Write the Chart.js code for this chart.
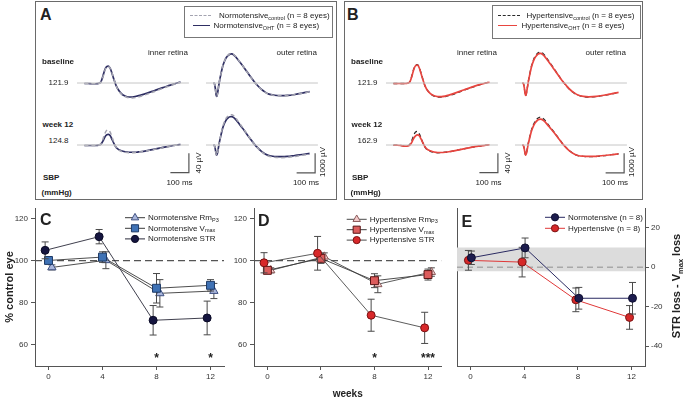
<!DOCTYPE html>
<html>
<head>
<meta charset="utf-8">
<script src="https://cdn.jsdelivr.net/npm/chart.js@4.4.0/dist/chart.umd.min.js"></script>
<style>
  body { margin: 0; background: #fff; }
  #fig { position: relative; width: 685px; height: 400px; overflow: hidden;
         font-family: "Liberation Sans", Arial, sans-serif; color: #222; }
  #fig canvas { position: absolute; }
  .t { position: absolute; font-size: 8px; white-space: nowrap; line-height: 1; }
  .b { font-weight: bold; }
  .big { font-size: 16px; font-weight: bold; }
  .ttl { font-size: 11px; font-weight: bold; }
  .box { position: absolute; box-sizing: border-box; }
  sub { font-size: 5.5px; vertical-align: -2px; line-height: 0; }
  .ttl sub { font-size: 7.5px; vertical-align: -3px; }
</style>
</head>
<body>
<div id="fig"></div>
<script>
// ---- ERG waveforms (time in ms, amplitude in µV) ----
const tInner = [0,20,40,60,80,90,100,110,120,130,140,150,160,170,180,200,220,240,260,280,300,340,380,420,460,500,520];
const tOuter = [0,5,10,15,18,22,27,32,40,50,60,70,80,90,100,110,120,135,150,165,180,200,220,240,260,280,300,330,360,400,440,480,520];

// panel A, normotensive
const innerBaseCtrlA = [-1,-1,-1.5,-1.5,-0.5,2,12,25,33,34,30,20,8,-4,-13,-23,-28,-30.5,-31,-30,-28,-23,-17.5,-11.5,-6,-1,1];
const innerBaseOhtA  = [-1,-1,-1.5,-1.5,-0.5,3,14,27,34,35,30,19,7,-4,-12,-22,-27,-29,-29,-27.5,-25.5,-21,-15.5,-10,-5,0,2];
const innerW12CtrlA  = [-1,-1,-1,-1,0,3,12,23,30,31,26,16,5,-4,-9,-13,-15,-16,-16,-15.5,-14.5,-12,-9,-6,-3,0,1];
const innerW12OhtA   = [-1,-1,-1,-1,0,2,8,16,21,22,19,11,3,-4,-8,-12,-14,-15,-15,-15,-14,-11.5,-8.5,-5.5,-2.5,0,1];
const outerBaseCtrlA = [0,-20,-240,-600,-680,-560,-260,40,420,850,1130,1320,1440,1505,1520,1460,1370,1180,1000,800,600,330,70,-150,-340,-480,-580,-640,-660,-650,-600,-530,-450];
const outerBaseOhtA  = [0,-20,-250,-620,-690,-560,-250,50,430,850,1120,1310,1420,1485,1500,1440,1350,1170,990,800,600,330,80,-140,-330,-470,-570,-630,-650,-640,-590,-520,-440];
const outerW12CtrlA  = [0,-20,-210,-480,-540,-430,-150,130,500,920,1200,1390,1500,1550,1560,1500,1400,1200,1000,800,590,320,60,-160,-350,-490,-580,-630,-650,-640,-590,-530,-470];
const outerW12OhtA   = [0,-20,-200,-460,-520,-420,-150,120,470,860,1120,1300,1400,1450,1460,1410,1320,1140,950,770,570,310,60,-150,-330,-460,-540,-590,-600,-590,-540,-490,-430];

// panel B, hypertensive
const innerBaseCtrlB = [-1,-1,-1,-1,0,3,15,29,37,38,32,20,7,-5,-13,-22,-27,-29,-29,-28,-26,-21,-15,-9.5,-4.5,0,2];
const innerBaseOhtB  = [-1,-1,-1,-1,0,3,14,28,36,37,31,19,6,-5,-13,-22,-26.5,-28,-28,-27,-25,-20,-14.5,-9,-4,0,1.5];
const innerW12CtrlB  = [-0.5,-0.5,-1,-2,-1,2,10,20,27,28,23,14,4,-4,-9,-13,-15,-16,-15.5,-15,-14,-11,-8,-5,-2.5,-0.5,0.5];
const innerW12OhtB   = [-0.5,-0.5,-1,-2.5,-2,0,6,14,19,21,19,12,4,-3,-8,-12,-14.5,-15.5,-15.5,-15,-14,-11,-8,-5,-2.5,-0.5,0.5];
const outerBaseCtrlB = [0,-20,-230,-580,-650,-520,-220,80,470,900,1190,1390,1510,1575,1590,1530,1430,1230,1030,820,610,330,60,-170,-370,-520,-630,-700,-720,-700,-640,-570,-490];
const outerBaseOhtB  = [0,-20,-230,-570,-640,-520,-230,60,440,860,1140,1330,1450,1510,1520,1460,1370,1180,990,790,590,320,60,-160,-360,-510,-620,-690,-710,-690,-630,-560,-480];
const outerW12CtrlB  = [0,-20,-200,-460,-520,-420,-160,100,430,800,1050,1240,1350,1415,1430,1380,1290,1110,920,740,550,290,40,-170,-340,-470,-550,-590,-600,-590,-550,-500,-460];
const outerW12OhtB   = [0,-20,-200,-460,-520,-430,-180,70,390,740,980,1150,1260,1320,1330,1290,1210,1050,880,710,530,280,30,-170,-340,-460,-540,-580,-590,-580,-540,-500,-450];

const sbpA = ["121.9", "124.8"];
const sbpB = ["121.9", "162.9"];

// ---- % control eye, weeks ----
const weeks = [0, 4, 8, 12];
const rmNormo = [96.8, 100.2, 84.5, 85.6];     const rmNormoErr = [1.2, 4, 6.5, 3.6];
const vmaxNormo = [100.1, 101.7, 86.9, 88.3];  const vmaxNormoErr = [1.2, 2.5, 7, 2.7];
const strNormo = [104.9, 111.4, 71.7, 72.8];   const strNormoErr = [4, 3.4, 7, 8];
const rmHyper = [95.4, 101.9, 88.8, 94.6];     const rmHyperErr = [1.2, 1.8, 4, 2];
const vmaxHyper = [95.4, 101.1, 90.5, 93.4];   const vmaxHyperErr = [1.2, 2.4, 3.3, 2.6];
const strHyper = [99.0, 103.5, 74.1, 68.1];    const strHyperErr = [4.8, 8, 7.6, 7.4];
const sigC = ["", "", "*", "*"];
const sigD = ["", "", "*", "***"];

// ---- STR loss - Vmax loss ----
const diffNormo = [4.8, 9.8, -15.7, -15.7];    const diffNormoErr = [3.4, 5, 5.5, 8];
const diffHyper = [3.5, 2.6, -16.5, -25.4];    const diffHyperErr = [5, 7.5, 6, 6];
const bandE = [-2, 10];

const pctTicks = [60, 80, 100, 120];
const diffTicks = [-40, -20, 0, 20];

Chart.defaults.font.family = '"Liberation Sans", Arial, sans-serif';
Chart.defaults.color = '#333';

const fig = document.getElementById('fig');

function label(html, x, y, align, cls, rot) {
  const d = document.createElement('div');
  d.className = 't ' + (cls || '');
  d.innerHTML = html;
  d.style.left = x + 'px';
  d.style.top = y + 'px';
  const tx = align === 'l' ? '0' : align === 'r' ? '-100%' : '-50%';
  d.style.transform = `translate(${tx},-50%)` + (rot ? ' rotate(-90deg)' : '');
  fig.appendChild(d);
}

function box(x, y, w, h, border) {
  const d = document.createElement('div');
  d.className = 'box';
  d.style.cssText += `left:${x}px;top:${y}px;width:${w}px;height:${h}px;border:${border};`;
  fig.appendChild(d);
}

function sample(x1, x2, y, style) {
  const d = document.createElement('div');
  d.className = 'box';
  d.style.cssText += `left:${x1}px;top:${y}px;width:${x2 - x1}px;border-top:${style};`;
  fig.appendChild(d);
}

function canvasAt(x, y, w, h) {
  const c = document.createElement('canvas');
  c.width = w; c.height = h;
  c.style.left = x + 'px'; c.style.top = y + 'px';
  fig.appendChild(c);
  return c;
}

const pts = (xs, ys, dx) => xs.map((x, i) => ({ x: x + (dx || 0), y: ys[i] }));

// one ERG trace pair with its zero line (and optional scale bar)
function waveChart(x, y, w, h, yRange, under, over, bar) {
  const ds = [{ data: [{ x: -40, y: 0 }, { x: 565, y: 0 }], borderColor: '#c6c6c6', borderWidth: 1 }];
  [under, over].forEach(tr => ds.push({
    data: pts(tr.t, tr.v), borderColor: tr.color, borderWidth: tr.width,
    borderDash: tr.dash || [], cubicInterpolationMode: 'monotone'
  }));
  if (bar) {
    ds.push({
      data: [{ x: bar.end - bar.ms, y: bar.bottom }, { x: bar.end, y: bar.bottom }, { x: bar.end, y: bar.bottom + bar.amp }],
      borderColor: '#555', borderWidth: 1.2
    });
  }
  ds.forEach(d => { d.pointRadius = 0; d.clip = false; });
  new Chart(canvasAt(x, y, w, h), {
    type: 'line',
    data: { datasets: ds },
    options: {
      responsive: false, animation: false, devicePixelRatio: 1, events: [],
      layout: { padding: 0 },
      plugins: { legend: { display: false }, tooltip: { enabled: false } },
      scales: {
        x: { type: 'linear', display: false, min: -40, max: 598 },
        y: { display: false, min: yRange[0], max: yRange[1] }
      }
    }
  });
}

function ergPanel(dx, ctrlStyle, ohtStyle, sets, sbp, ctrlOnTop) {
  const innerY = [-60, 60], outerY = [-1800, 1800];
  const mk = (v, st, t) => Object.assign({ t: t, v: v }, st);
  const pair = (c, o, t) => ctrlOnTop ? [mk(o, ohtStyle, t), mk(c, ctrlStyle, t)] : [mk(c, ctrlStyle, t), mk(o, ohtStyle, t)];
  let p;
  p = pair(sets[0], sets[1], tInner); waveChart(77 + dx, 54, 118, 58, innerY, p[0], p[1]);
  p = pair(sets[2], sets[3], tInner); waveChart(77 + dx, 116, 118, 58, innerY, p[0], p[1], { end: 565, ms: 100, bottom: -57, amp: 40 });
  p = pair(sets[4], sets[5], tOuter); waveChart(206 + dx, 48, 118, 70, outerY, p[0], p[1]);
  p = pair(sets[6], sets[7], tOuter); waveChart(206 + dx, 110, 118, 70, outerY, p[0], p[1], { end: 550, ms: 100, bottom: -1430, amp: 1000 });

  label('inner retina', 188 + dx, 52.5, 'r');
  label('outer retina', 317 + dx, 52.5, 'r');
  label('baseline', 42 + dx, 62, 'l', 'b');
  label(sbp[0], 48.5 + dx, 82.5, 'l');
  label('week 12', 42.5 + dx, 124.5, 'l', 'b');
  label(sbp[1], 48.5 + dx, 141, 'l');
  label('SBP', 43 + dx, 177.5, 'l', 'b');
  label('(mmHg)', 41.5 + dx, 192.5, 'l', 'b');
  label('100 ms', 179.5 + dx, 182.5, 'c');
  label('100 ms', 306 + dx, 182.5, 'c');
  label('40 µV', 198.5 + dx, 163, 'c', '', true);
  label('1000 µV', 323 + dx, 162, 'c', '', true);
}

// ---- panels A and B ----
box(35, 1, 302, 199, '1.5px solid #6a6a6a');
box(344, 1, 299, 199, '1.5px solid #6a6a6a');
label('A', 40, 14.5, 'l', 'big');
label('B', 347, 14.5, 'l', 'big');

ergPanel(0,
  { color: '#a3a3b0', width: 1.5, dash: [4, 3] },
  { color: '#2e2e63', width: 1.7 },
  [innerBaseCtrlA, innerBaseOhtA, innerW12CtrlA, innerW12OhtA, outerBaseCtrlA, outerBaseOhtA, outerW12CtrlA, outerW12OhtA],
  sbpA, false);
ergPanel(309,
  { color: '#2a2a2a', width: 1.3, dash: [4, 3] },
  { color: '#e8453f', width: 1.7 },
  [innerBaseCtrlB, innerBaseOhtB, innerW12CtrlB, innerW12OhtB, outerBaseCtrlB, outerBaseOhtB, outerW12CtrlB, outerW12OhtB],
  sbpB, true);

// legends A / B
box(184, 6, 149, 32, '1px solid #777');
sample(190, 211, 15, '1.5px dashed #a3a3b0');
label('Normotensive<sub>control</sub> (n = 8 eyes)', 219, 15.5, 'l');
sample(193, 210, 25, '1.5px solid #2e2e63');
label('Normotensive<sub>OHT</sub> (n = 8 eyes)', 213.5, 25.5, 'l');

box(492, 5, 149, 34, '1px solid #777');
sample(498, 520, 15, '1.5px dashed #2a2a2a');
label('Hypertensive<sub>control</sub> (n = 8 eyes)', 526.5, 15.5, 'l');
sample(498, 517, 25, '1.5px solid #e8453f');
label('Hypertensive<sub>OHT</sub> (n = 8 eyes)', 521.5, 26, 'l');

// ---- plugins for C, D, E ----
const errorBars = {
  id: 'errorBars',
  beforeDatasetDraw(chart, args) {
    const ds = chart.data.datasets[args.index];
    if (!ds.errors) return;
    const ctx = chart.ctx, ys = chart.scales.y;
    ctx.save();
    ctx.strokeStyle = '#4a4a4a';
    ctx.lineWidth = 1;
    args.meta.data.forEach((pt, j) => {
      const v = ds.data[j].y, e = ds.errors[j];
      const top = ys.getPixelForValue(v + e), bot = ys.getPixelForValue(v - e);
      ctx.beginPath();
      ctx.moveTo(pt.x, top); ctx.lineTo(pt.x, bot);
      ctx.moveTo(pt.x - 3.5, top); ctx.lineTo(pt.x + 3.5, top);
      ctx.moveTo(pt.x - 3.5, bot); ctx.lineTo(pt.x + 3.5, bot);
      ctx.stroke();
    });
    ctx.restore();
  }
};

const stars = {
  id: 'stars',
  afterDatasetsDraw(chart, args, opts) {
    if (!opts.marks) return;
    const ctx = chart.ctx;
    ctx.save();
    ctx.font = 'bold 12px "Liberation Sans", Arial';
    ctx.fillStyle = '#222';
    ctx.textAlign = 'center';
    ctx.textBaseline = 'alphabetic';
    opts.marks.forEach((m, i) => {
      if (!m) return;
      ctx.fillText(m, chart.scales.x.getPixelForValue(weeks[i]), chart.scales.y.getPixelForValue(opts.at) + 7);
    });
    ctx.restore();
  }
};

const subLegend = {
  id: 'subLegend',
  afterDraw(chart, args, opts) {
    if (!opts.x) return;
    const ctx = chart.ctx;
    let row = 0;
    chart.data.datasets.forEach(ds => {
      if (!ds.legendText) return;
      const x = opts.x, y = opts.y + row * opts.row;
      row++;
      ctx.save();
      ctx.strokeStyle = ds.borderColor;
      ctx.lineWidth = 1;
      ctx.beginPath(); ctx.moveTo(x, y); ctx.lineTo(x + 20, y); ctx.stroke();
      ctx.fillStyle = ds.pointBackgroundColor;
      ctx.strokeStyle = ds.pointBorderColor;
      Chart.helpers.drawPoint(ctx, { pointStyle: ds.pointStyle, rotation: 0, radius: ds.pointRadius * 0.9, borderWidth: 1 }, x + 10, y);
      ctx.fillStyle = '#222';
      ctx.textBaseline = 'middle';
      ctx.font = '8px "Liberation Sans", Arial';
      let tx = x + 23;
      const [main, sub, tail] = ds.legendText;
      ctx.fillText(main, tx, y); tx += ctx.measureText(main).width;
      if (sub) {
        ctx.font = '5.5px "Liberation Sans", Arial';
        ctx.fillText(sub, tx, y + 2.5); tx += ctx.measureText(sub).width;
        ctx.font = '8px "Liberation Sans", Arial';
      }
      if (tail) ctx.fillText(tail, tx, y);
      ctx.restore();
    });
  }
};

function series(label, vals, errs, dx, style, order) {
  return Object.assign({
    legendText: label, data: pts(weeks, vals, dx), errors: errs, showLine: true,
    borderWidth: 0.9, pointBorderWidth: 1, order: order
  }, style);
}

const axisLine = { color: '#555' };
const tickGrid = { drawOnChartArea: false, tickLength: 4, color: '#555' };
const tickFont = { size: 8 };

function xWeeks(height, title) {
  return {
    type: 'linear', min: -1, max: 13,
    afterBuildTicks: a => { a.ticks = weeks.map(v => ({ value: v })); },
    afterFit: a => { a.height = height; },
    grid: tickGrid, border: axisLine,
    ticks: { font: tickFont, color: '#333', padding: 2, maxRotation: 0 },
    title: title ? { display: true, text: title, font: { size: 10, weight: 'bold' }, color: '#222', padding: { top: 1, bottom: 0 } } : { display: false }
  };
}

function pctChart(x, w, h, yWidth, padRight, datasets, legendPos, sig, yTitle, xTitle) {
  new Chart(canvasAt(x, 200, w, h), {
    type: 'scatter',
    data: { datasets: datasets },
    options: {
      responsive: false, animation: false, devicePixelRatio: 1, events: [],
      layout: { padding: { top: 8, right: padRight, left: 0, bottom: 0 } },
      plugins: {
        legend: { display: false }, tooltip: { enabled: false },
        subLegend: legendPos,
        stars: { marks: sig, at: 55 }
      },
      scales: {
        x: xWeeks(xTitle ? 34 : 19, xTitle),
        y: {
          min: 50, max: 125,
          afterBuildTicks: a => { a.ticks = pctTicks.map(v => ({ value: v })); },
          afterFit: a => { a.width = yWidth; },
          grid: tickGrid, border: axisLine,
          ticks: { font: tickFont, color: '#333', padding: 3 },
          title: yTitle ? { display: true, text: yTitle, font: { size: 11, weight: 'bold' }, color: '#222', padding: { top: 3, bottom: 0 } } : { display: false }
        }
      }
    },
    plugins: [errorBars, stars, subLegend]
  });
}

function refLine(v) {
  return { data: [{ x: -1, y: v }, { x: 13, y: v }], showLine: true, borderColor: '#555', borderWidth: 1.2, borderDash: [7, 4], pointRadius: 0, order: 9 };
}

// ---- panel C ----
pctChart(0, 232, 185, 35, 8, [
  series(['Normotensive Rm', 'P3', ''], rmNormo, rmNormoErr, 0.25,
    { borderColor: '#3a3a3a', pointStyle: 'triangle', pointRadius: 4.8, pointBackgroundColor: '#a9b6dc', pointBorderColor: '#3d4f80' }, 3),
  series(['Normotensive V', 'max', ''], vmaxNormo, vmaxNormoErr, 0,
    { borderColor: '#3a3a3a', pointStyle: 'rect', pointRadius: 5.6, pointBackgroundColor: '#3f72b5', pointBorderColor: '#1e3a66' }, 2),
  series(['Normotensive STR', '', ''], strNormo, strNormoErr, -0.25,
    { borderColor: '#2a2a3a', pointStyle: 'circle', pointRadius: 4, pointBackgroundColor: '#15153f', pointBorderColor: '#0a0a25' }, 1),
  refLine(100)
], { x: 125, y: 17.7, row: 10.6 }, sigC, '% control eye', null);

// ---- panel D ----
pctChart(225, 223, 200, 29, 5, [
  series(['Hypertensive Rm', 'P3', ''], rmHyper, rmHyperErr, 0.25,
    { borderColor: '#4a4a4a', pointStyle: 'triangle', pointRadius: 4.8, pointBackgroundColor: '#f3caca', pointBorderColor: '#8a5a5a' }, 3),
  series(['Hypertensive V', 'max', ''], vmaxHyper, vmaxHyperErr, 0,
    { borderColor: '#3a3a3a', pointStyle: 'rect', pointRadius: 5.6, pointBackgroundColor: '#dc5c5c', pointBorderColor: '#5a1515' }, 2),
  series(['Hypertensive STR', '', ''], strHyper, strHyperErr, -0.25,
    { borderColor: '#4a4a4a', pointStyle: 'circle', pointRadius: 4, pointBackgroundColor: '#d8282a', pointBorderColor: '#7a1010' }, 1),
  refLine(100)
], { x: 121.7, y: 19.3, row: 10.4 }, sigD, null, 'weeks');

// ---- panel E ----
new Chart(canvasAt(440, 200, 225, 185), {
  type: 'scatter',
  data: {
    datasets: [
      series(['Normotensive (n = 8)', '', ''], diffNormo, diffNormoErr, 0.07,
        { borderColor: '#2a2a62', borderWidth: 1, pointStyle: 'circle', pointRadius: 4, pointBackgroundColor: '#1c1c4e', pointBorderColor: '#0e0e30' }, 1),
      series(['Hypertensive (n = 8)', '', ''], diffHyper, diffHyperErr, -0.15,
        { borderColor: '#e03838', borderWidth: 1, pointStyle: 'circle', pointRadius: 4, pointBackgroundColor: '#d62828', pointBorderColor: '#7a1414' }, 2),
      { data: [{ x: -1, y: 0 }, { x: 13, y: 0 }], showLine: true, borderColor: '#a8a8a8', borderWidth: 1.5, borderDash: [6, 4], pointRadius: 0, order: 9 },
      { data: [{ x: -1, y: bandE[1] }, { x: 13, y: bandE[1] }], showLine: true, fill: { value: bandE[0] }, backgroundColor: '#dcdcdc', borderWidth: 0, pointRadius: 0, order: 10 }
    ]
  },
  options: {
    responsive: false, animation: false, devicePixelRatio: 1, events: [],
    layout: { padding: { top: 8, right: 0, left: 0, bottom: 0 } },
    plugins: {
      legend: { display: false }, tooltip: { enabled: false },
      subLegend: { x: 105, y: 17.3, row: 11 }
    },
    scales: {
      x: xWeeks(19, null),
      y: {
        position: 'right', min: -50, max: 30,
        afterBuildTicks: a => { a.ticks = diffTicks.map(v => ({ value: v })); },
        afterFit: a => { a.width = 20; },
        grid: tickGrid, border: axisLine,
        ticks: { font: tickFont, color: '#333', padding: 2 }
      },
      yl: {
        position: 'left', min: -50, max: 30,
        afterFit: a => { a.width = 17; },
        grid: { display: false }, border: axisLine,
        ticks: { display: false }
      }
    }
  },
  plugins: [errorBars, subLegend]
});

label('C', 40, 219.5, 'l', 'big');
label('D', 258, 221, 'l', 'big');
label('E', 461.5, 221.5, 'l', 'big');
label('STR loss - V<sub>max</sub> loss', 676, 286, 'c', 'ttl', true);
</script>
</body>
</html>
